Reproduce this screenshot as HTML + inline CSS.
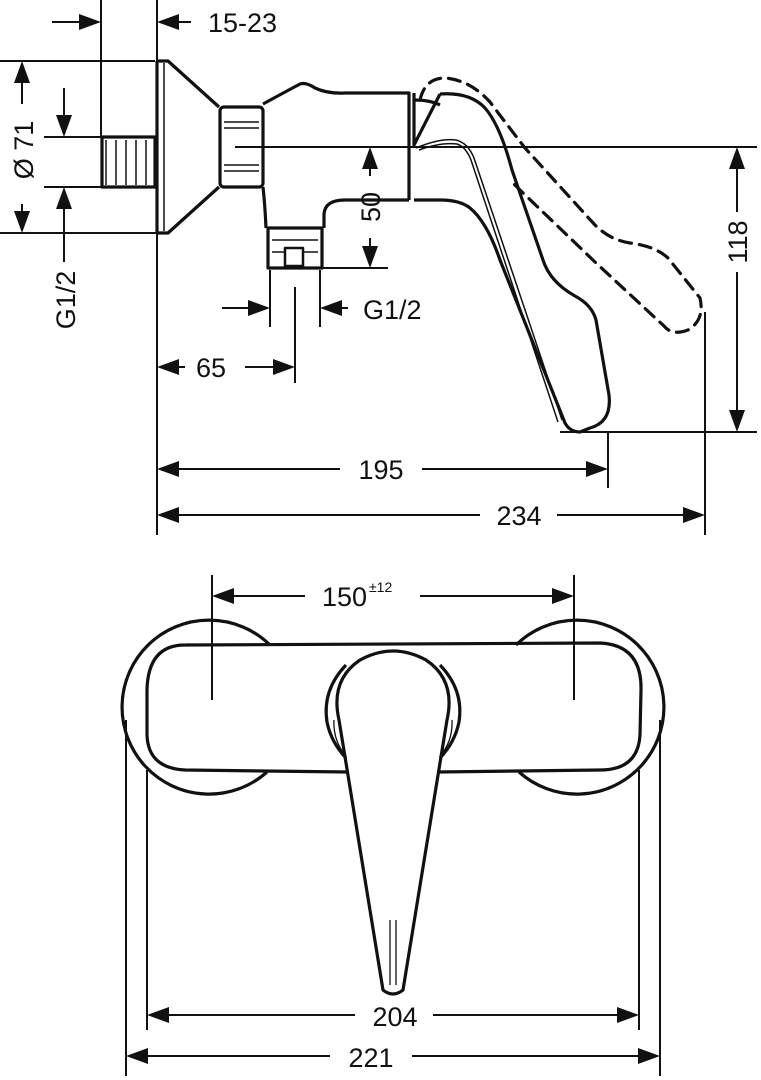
<!DOCTYPE html>
<html><head><meta charset="utf-8"><style>
html,body{margin:0;padding:0;background:#fff;}
svg{display:block;}
text{font-family:"Liberation Sans",sans-serif;font-size:27px;fill:#111;}
</style></head><body>
<svg width="761" height="1080" viewBox="0 0 761 1080" xmlns="http://www.w3.org/2000/svg">
<g stroke="#111" stroke-width="2" fill="none">
<!-- extension lines side view -->
<line x1="101" y1="0" x2="101" y2="137"/>
<line x1="157" y1="0" x2="157" y2="535"/>
<line x1="0" y1="61" x2="155" y2="61"/>
<line x1="0" y1="233" x2="157" y2="233"/>
<line x1="44" y1="137" x2="101" y2="137"/>
<line x1="44" y1="187" x2="101" y2="187"/>
<line x1="235" y1="147" x2="757" y2="147"/>
<line x1="322" y1="268" x2="388" y2="268"/>
<line x1="560" y1="432" x2="757" y2="432"/>
<line x1="608" y1="432" x2="608" y2="488"/>
<line x1="705" y1="312" x2="705" y2="535"/>
<line x1="270" y1="270" x2="270" y2="327"/>
<line x1="320" y1="270" x2="320" y2="327"/>
<line x1="295" y1="287" x2="295" y2="383"/>
<!-- dim lines -->
<line x1="52" y1="22" x2="90" y2="22"/>
<line x1="168" y1="22" x2="191" y2="22"/>
<line x1="22" y1="72" x2="22" y2="104"/>
<line x1="22" y1="204" x2="22" y2="222"/>
<line x1="64" y1="88" x2="64" y2="125"/>
<line x1="64" y1="200" x2="64" y2="262"/>
<line x1="370" y1="160" x2="370" y2="176"/>
<line x1="370" y1="238" x2="370" y2="255"/>
<line x1="222" y1="308" x2="258" y2="308"/>
<line x1="332" y1="308" x2="348" y2="308"/>
<line x1="168" y1="367" x2="185" y2="367"/>
<line x1="245" y1="367" x2="284" y2="367"/>
<line x1="737" y1="160" x2="737" y2="212"/>
<line x1="737" y1="272" x2="737" y2="420"/>
<line x1="168" y1="469" x2="340" y2="469"/>
<line x1="422" y1="469" x2="598" y2="469"/>
<line x1="168" y1="515" x2="480" y2="515"/>
<line x1="557" y1="515" x2="694" y2="515"/>
</g>
<g fill="#111">
<polygon points="101,22 79,14 79,30"/>
<polygon points="157,22 179,14 179,30"/>
<polygon points="22,61 14,83 30,83"/>
<polygon points="22,233 14,211 30,211"/>
<polygon points="64,137 56,115 72,115"/>
<polygon points="64,187 56,209 72,209"/>
<polygon points="370,147 362,169 378,169"/>
<polygon points="370,268 362,246 378,246"/>
<polygon points="270,308 248,300 248,316"/>
<polygon points="320,308 342,300 342,316"/>
<polygon points="157,367 179,359 179,375"/>
<polygon points="295,367 273,359 273,375"/>
<polygon points="737,147 729,169 745,169"/>
<polygon points="737,432 729,410 745,410"/>
<polygon points="157,469 179,461 179,477"/>
<polygon points="608,469 586,461 586,477"/>
<polygon points="157,515 179,507 179,523"/>
<polygon points="705,515 683,507 683,523"/>
</g>
<text x="208" y="32">15-23</text>
<text transform="translate(33,150) rotate(-90)" text-anchor="middle">Ø 71</text>
<text transform="translate(75,300) rotate(-90)" text-anchor="middle">G1/2</text>
<text transform="translate(380,207) rotate(-90)" text-anchor="middle">50</text>
<text x="363" y="319">G1/2</text>
<text x="196" y="377">65</text>
<text transform="translate(747,242) rotate(-90)" text-anchor="middle">118</text>
<text x="381" y="479" text-anchor="middle">195</text>
<text x="519" y="525" text-anchor="middle">234</text>

<!-- side view object -->
<g stroke="#111" stroke-width="3.2" fill="none" stroke-linejoin="round">
<rect x="102" y="137" width="53" height="50"/>
<path d="M157,61 L168,61 L219,107 M157,233 L168,233 L219,187 M157,61 L157,233"/>
<rect x="220" y="107" width="43" height="80" rx="4"/>
<path d="M263,104 Q285,92 300,84 Q306,82 315,88 Q328,94 345,93 L409,93 L409,200 M263,187 Q265,205 266,228 M409,200 L345,200 Q325,200 324,214 L324,228"/>
<rect x="268" y="228" width="54" height="40"/>
<rect x="285" y="248" width="18" height="18" stroke-width="2.5"/>
<path d="M440,94 Q470,92 485,108 Q500,125 512,170 L543,260 Q550,282 575,296 Q592,305 596,320 L609,395 Q612,422 590,428 L580,432 Q570,432 565,423 L500,260 Q487,222 470,208 Q460,200 440,200 L414,200 M414,93 L414,145 L440,94 M414,100 Q430,100 440,105"/>
</g>
<g stroke="#111" stroke-width="1.5" fill="none">
<line x1="106" y1="140" x2="106" y2="185"/><line x1="116" y1="140" x2="116" y2="185"/><line x1="126" y1="140" x2="126" y2="185"/><line x1="136" y1="140" x2="136" y2="185"/><line x1="146" y1="140" x2="146" y2="185"/>
<line x1="164" y1="63" x2="164" y2="231"/>
<line x1="224" y1="122" x2="259" y2="122"/><line x1="224" y1="128" x2="259" y2="128"/>
<line x1="224" y1="165" x2="259" y2="165"/><line x1="224" y1="171" x2="259" y2="171"/>
<line x1="272" y1="240" x2="318" y2="240"/><line x1="272" y1="252" x2="284" y2="252"/><line x1="304" y1="252" x2="318" y2="252"/>
<path d="M416,148 Q440,138 456,140 Q468,143 474,158 L562,420"/>
<path d="M419,150 Q441,142 457,144 Q466,147 471,160 L558,422"/>
</g>
<path d="M420,100 Q425,78 445,78 Q470,80 490,102 Q505,122 525,148 L595,225 Q610,240 630,243 Q655,246 668,258 L700,298 Q705,320 688,330 Q672,336 664,326 L595,262 L520,190 Q513,183 510,180" stroke="#111" stroke-width="3.2" fill="none" stroke-dasharray="12,8" stroke-linecap="round"/>

<!-- front view -->
<g stroke="#111" stroke-width="2" fill="none">
<line x1="212" y1="575" x2="212" y2="700"/>
<line x1="574" y1="575" x2="574" y2="700"/>
<line x1="223" y1="596" x2="305" y2="596"/>
<line x1="420" y1="596" x2="563" y2="596"/>
<line x1="126" y1="720" x2="126" y2="1076"/>
<line x1="660" y1="720" x2="660" y2="1076"/>
<line x1="147" y1="770" x2="147" y2="1030"/>
<line x1="639" y1="770" x2="639" y2="1030"/>
<line x1="158" y1="1015" x2="355" y2="1015"/>
<line x1="433" y1="1015" x2="628" y2="1015"/>
<line x1="137" y1="1056" x2="330" y2="1056"/>
<line x1="412" y1="1056" x2="649" y2="1056"/>
</g>
<g fill="#111">
<polygon points="212,596 234,588 234,604"/>
<polygon points="574,596 552,588 552,604"/>
<polygon points="147,1015 169,1007 169,1023"/>
<polygon points="639,1015 617,1007 617,1023"/>
<polygon points="126,1056 148,1048 148,1064"/>
<polygon points="660,1056 638,1048 638,1064"/>
</g>
<text x="322" y="606">150</text>
<text x="369" y="592" style="font-size:14px">±12</text>
<text x="395" y="1026" text-anchor="middle">204</text>
<text x="371" y="1067" text-anchor="middle">221</text>
<g stroke="#111" stroke-width="3.2" fill="none" stroke-linejoin="round">
<path d="M270,645 A87,87 0 1 0 267,772"/>
<path d="M516,645 A87,87 0 1 1 519,772"/>
<path d="M185,645 L600,643 Q642,645 641,690 L640,735 Q638,770 600,770 L437,772 M348,772 L185,770 Q148,768 147,735 L147,690 Q148,645 185,645"/>
<path d="M383,990 L339,720 Q330,680 360,660 Q393,642 426,660 Q456,680 447,720 L403,990 Q393,998 383,990 Z"/>
<path d="M346,665 Q322,690 327,722 Q331,742 346,758"/>
<path d="M440,665 Q464,690 459,722 Q455,742 440,758"/>
</g>
<g stroke="#111" stroke-width="1.3" fill="none">
<path d="M390,920 L390,985 M396,920 L396,985"/>
<path d="M334,720 Q333,740 345,755 M452,720 Q453,740 441,755"/>
</g>
</svg>
</body></html>
